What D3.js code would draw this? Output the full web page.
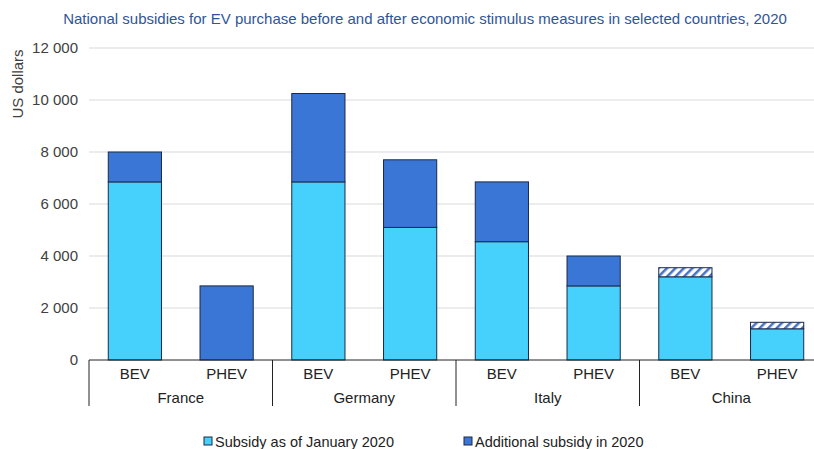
<!DOCTYPE html>
<html><head><meta charset="utf-8">
<script src="https://cdn.jsdelivr.net/npm/d3@7"></script>
<style>body{margin:0;background:#fff;}svg{display:block;font-family:"Liberation Sans",Arial,sans-serif;}</style>
</head><body><svg id="c" width="814" height="449"></svg>
<script>
const countries = ["France","Germany","Italy","China"];
const types = ["BEV","PHEV"];
const baseSubsidy = [6850, 0, 6850, 5100, 4550, 2850, 3200, 1200];
const additionalSubsidy = [1150, 2850, 3400, 2600, 2300, 1150, 0, 0];
const hatchedSubsidy = [0, 0, 0, 0, 0, 0, 350, 250];
const yTicks = [0, 2000, 4000, 6000, 8000, 10000, 12000];
const legendLabels = ["Subsidy as of January 2020", "Additional subsidy in 2020"];

const svg = d3.select("#c");
const m = {l: 89, t: 48, b: 360};
const plotRight = 823;
const FS = 15;
const cats = [];
countries.forEach(c => types.forEach(t => cats.push(c + "|" + t)));

const x = d3.scaleBand().domain(cats).range([m.l, plotRight]).paddingInner(0.42).paddingOuter(0.21);
const y = d3.scaleLinear().domain([0, 12000]).range([m.b, m.t]);
const fmt = v => d3.format(",")(v).replace(/,/g, " ");

const defs = svg.append("defs");
const pat = defs.append("pattern").attr("id","hatch").attr("patternUnits","userSpaceOnUse")
  .attr("width",6).attr("height",6).attr("patternTransform","rotate(45)");
pat.append("rect").attr("width",6).attr("height",6).attr("fill","#fff");
pat.append("rect").attr("width",2.5).attr("height",6).attr("fill","#4a72c4");

// title
svg.append("text").attr("x", 425).attr("y", 24).attr("text-anchor","middle")
  .attr("fill","#2f5597").attr("font-size",15)
  .text("National subsidies for EV purchase before and after economic stimulus measures in selected countries, 2020");

// grid
svg.append("g").selectAll("line").data(yTicks.filter(d=>d>0)).join("line")
  .attr("x1", m.l).attr("x2", 814).attr("y1", d=>y(d)).attr("y2", d=>y(d))
  .attr("stroke","#d9d9d9").attr("stroke-width",1);

// y labels
const yAxis = d3.axisLeft(y).tickValues(yTicks).tickFormat(fmt).tickSize(0).tickPadding(11);
const ya = svg.append("g").attr("transform",`translate(${m.l},0)`).call(yAxis);
ya.select(".domain").remove();
ya.selectAll("text").attr("font-size",FS).attr("fill","#404040").attr("font-family","Liberation Sans, Arial, sans-serif");

svg.append("text").attr("transform","translate(23,84) rotate(-90)").attr("text-anchor","middle")
  .attr("font-size",FS).attr("fill","#404040").text("US dollars");

// bars
const bw = x.bandwidth();
const g = svg.append("g");
cats.forEach((c,i) => {
  const b = baseSubsidy[i], a = additionalSubsidy[i], h = hatchedSubsidy[i];
  if (b > 0) g.append("rect").attr("x", x(c)).attr("width", bw).attr("y", y(b)).attr("height", y(0)-y(b))
    .attr("fill","#45d1fc").attr("stroke","#1b2a47").attr("stroke-width",1);
  if (a > 0) g.append("rect").attr("x", x(c)).attr("width", bw).attr("y", y(b+a)).attr("height", y(b)-y(b+a))
    .attr("fill","#3a76d6").attr("stroke","#1b2a47").attr("stroke-width",1);
  if (h > 0) g.append("rect").attr("x", x(c)).attr("width", bw).attr("y", y(b+a+h)).attr("height", y(b+a)-y(b+a+h))
    .attr("fill","url(#hatch)").attr("stroke","#1b2a47").attr("stroke-width",1);
});

// x axis
const ax = svg.append("g");
ax.append("line").attr("x1", m.l).attr("x2", 814).attr("y1", y(0)).attr("y2", y(0)).attr("stroke","#222").attr("stroke-width",1);
const groupW = (plotRight - m.l) / countries.length;
countries.forEach((c,i) => {
  const gx = m.l + i*groupW;
  ax.append("line").attr("x1", gx).attr("x2", gx).attr("y1", y(0)).attr("y2", 406).attr("stroke","#222");
  ax.append("text").attr("x", gx + groupW/2).attr("y", 403).attr("text-anchor","middle")
    .attr("font-size",FS).attr("fill","#222").text(c);
});
cats.forEach(c => {
  ax.append("text").attr("x", x(c)+bw/2).attr("y", 379).attr("text-anchor","middle")
    .attr("font-size",FS).attr("fill","#222").text(c.split("|")[1]);
});

// legend
const legX = [204, 464];
const legCols = ["#45d1fc","#3a76d6"];
legendLabels.forEach((l,i) => {
  svg.append("rect").attr("x", legX[i]).attr("y", 437).attr("width", 8).attr("height", 8)
    .attr("fill", legCols[i]).attr("stroke","#1b2a47").attr("stroke-width",1);
  svg.append("text").attr("x", legX[i]+11).attr("y", 447).attr("font-size",14.5).attr("fill","#222").text(l);
});
</script></body></html>
